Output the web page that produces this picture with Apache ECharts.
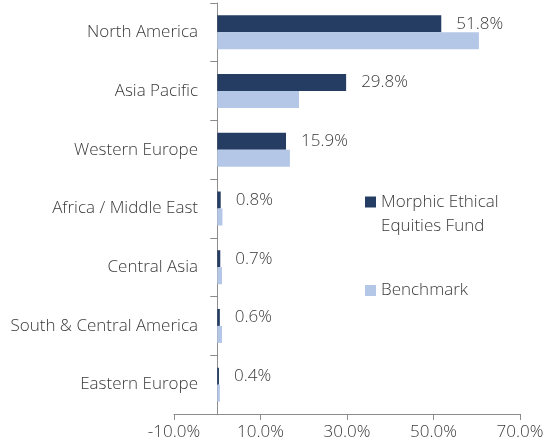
<!DOCTYPE html>
<html><head><meta charset="utf-8">
<script src="https://cdn.jsdelivr.net/npm/echarts@6/dist/echarts.min.js"></script>
<style>html,body{margin:0;padding:0;background:#fff}#c{width:546px;height:448px}</style>
</head><body><div id="c"></div>
<script>
const categories = ['North America','Asia Pacific','Western Europe','Africa / Middle East','Central Asia','South & Central America','Eastern Europe'];
const fundValues = [51.8, 29.8, 15.9, 0.8, 0.7, 0.6, 0.4];
const benchmarkValues = [60.5, 18.9, 16.8, 1.2, 1.1, 1.1, 0.6];
const xTicks = [-10, 10, 30, 50, 70];
const fundName = 'Morphic Ethical Equities Fund';
const benchName = 'Benchmark';

const FONT = '"Open Sans", sans-serif';
const FS = 17;
const FW = 300;
const TXT = '#3a3a3a';
const chart = echarts.init(document.getElementById('c'), null, {renderer:'canvas'});
chart.setOption({
  animation:false,
  textStyle:{fontFamily:FONT, fontWeight:FW},
  grid:{left:174, right:26, top:3, bottom:34, containLabel:false, outerBoundsMode:'none'},
  legend:[
    {data:[fundName], left:365, top:166, padding:0, orient:'vertical', itemWidth:11, itemHeight:11, icon:'rect',
     formatter:()=>' \nMorphic Ethical\nEquities Fund',
     textStyle:{fontFamily:FONT, fontWeight:FW, fontSize:FS, color:TXT, lineHeight:24}},
    {data:[benchName], left:365, top:282, padding:0, orient:'vertical', itemWidth:11, itemHeight:11, icon:'rect',
     textStyle:{fontFamily:FONT, fontWeight:FW, fontSize:FS, color:TXT}}
  ],
  xAxis:{type:'value', min:-10, max:70, interval:20,
    axisLine:{show:true, lineStyle:{color:'#8c8c8c', width:1}},
    axisTick:{show:true, length:6, lineStyle:{color:'#8c8c8c'}},
    splitLine:{show:false},
    axisLabel:{fontFamily:FONT, fontWeight:FW, fontSize:FS, color:TXT, margin:10,
      formatter:v=> xTicks.includes(v) ? v.toFixed(1)+'%' : ''}
  },
  yAxis:{type:'category', data:categories, inverse:true,
    axisLine:{show:true, onZero:true, lineStyle:{color:'#8c8c8c', width:1}},
    axisTick:{show:true, length:7, lineStyle:{color:'#8c8c8c'}},
    axisLabel:{fontFamily:FONT, fontWeight:FW, fontSize:FS, color:TXT, margin:-24}
  },
  series:[
    {name:fundName, type:'bar', data:fundValues, barWidth:17, barGap:'0%',
     itemStyle:{color:'#253d62'},
     label:{show:true, position:'right', distance:15, fontFamily:FONT, fontWeight:FW, fontSize:FS, color:TXT,
       formatter:p=>p.value.toFixed(1)+'%'}},
    {name:benchName, type:'bar', data:benchmarkValues, barWidth:17, barGap:'0%',
     itemStyle:{color:'#b4c7e7'}}
  ]
});
</script></body></html>
